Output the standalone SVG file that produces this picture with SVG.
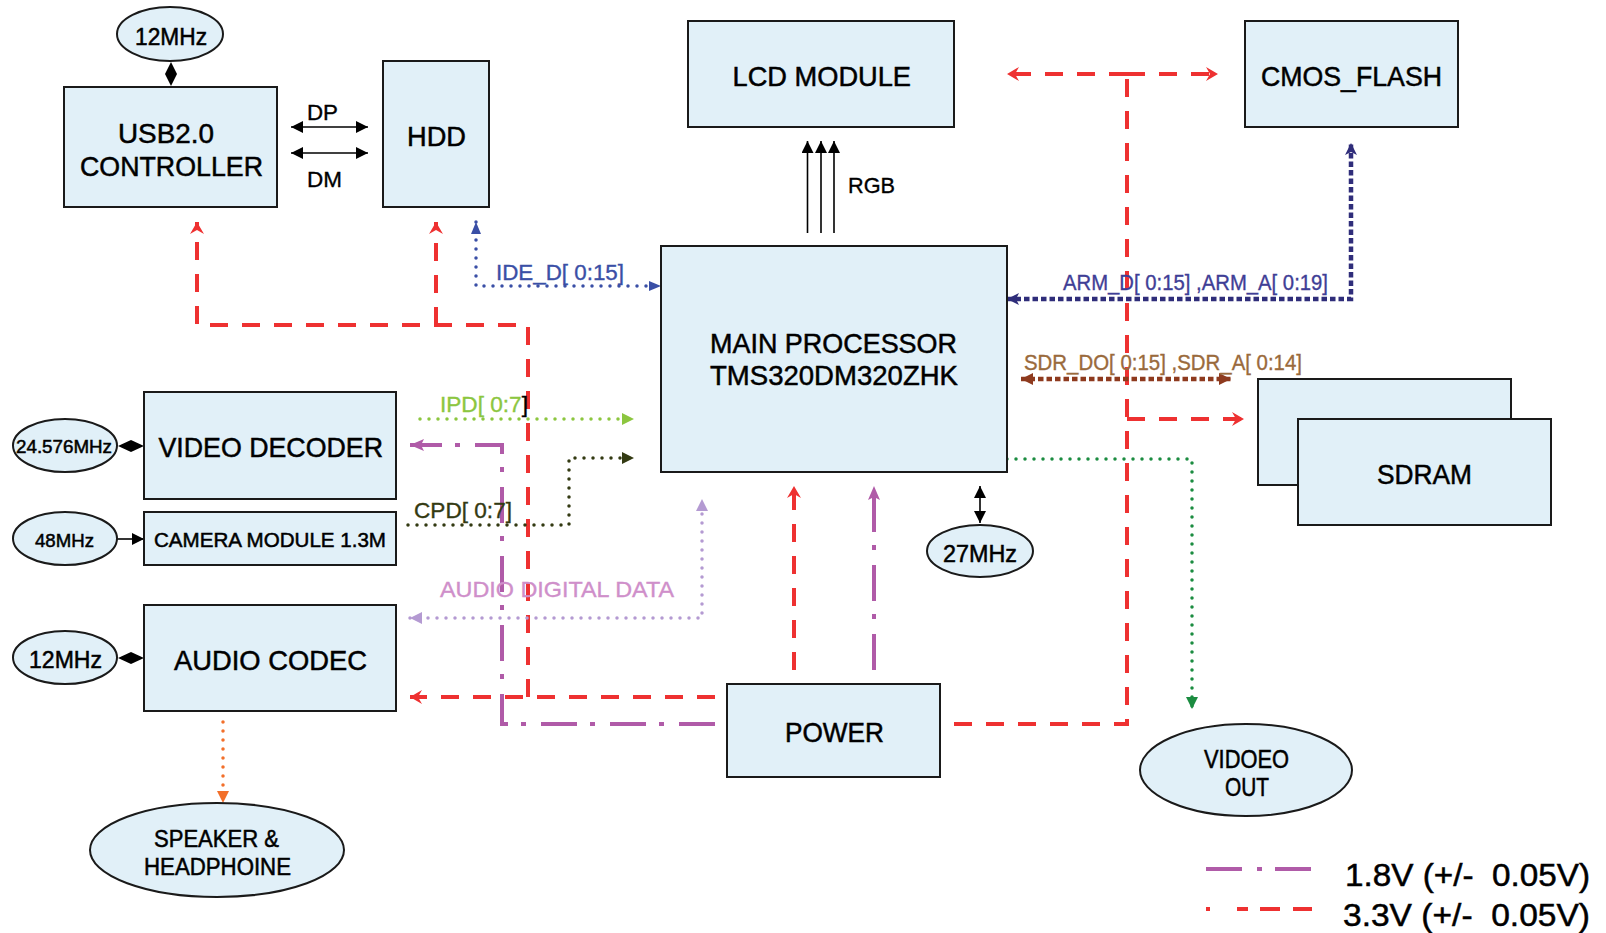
<svg xmlns="http://www.w3.org/2000/svg" width="1606" height="933" viewBox="0 0 1606 933">
<style>
.box{fill:#e1f0f8;stroke:#1a1a1a;stroke-width:2}
.t{font-family:"Liberation Sans",Arial,sans-serif;fill:#000;stroke:#000;stroke-width:0.5}
.l{font-family:"Liberation Sans",Arial,sans-serif;font-size:22px;stroke-width:0.35}
.v33{fill:none;stroke:#ee3131;stroke-width:4;stroke-dasharray:18 14}
.v18{fill:none;stroke:#b05ba8;stroke-width:4;stroke-dasharray:36 15 5 13}
.blk{fill:none;stroke:#000;stroke-width:1.6}
.dot{fill:none;stroke-width:3.5;stroke-linecap:round;stroke-dasharray:0 9}
.sq{fill:none;stroke-width:4.5;stroke-dasharray:5.5 3}
</style>
<defs>
<marker id="aBlk" viewBox="0 0 12 12" refX="12" refY="6" markerWidth="12" markerHeight="12" markerUnits="userSpaceOnUse" orient="auto-start-reverse"><path d="M0,0L12,6L0,12z" fill="#000"/></marker>
<marker id="aRed" viewBox="0 0 12 14" refX="12" refY="7" markerWidth="12" markerHeight="14" markerUnits="userSpaceOnUse" orient="auto-start-reverse"><path d="M0,0L12,7L0,14L4,7z" fill="#ee3131"/></marker>
<marker id="aPur" viewBox="0 0 14 12" refX="14" refY="6" markerWidth="14" markerHeight="12" markerUnits="userSpaceOnUse" orient="auto-start-reverse"><path d="M0,0L14,6L0,12L3,6z" fill="#b05ba8"/></marker>
<marker id="aBlue" viewBox="0 0 12 10" refX="12" refY="5" markerWidth="12" markerHeight="10" markerUnits="userSpaceOnUse" orient="auto-start-reverse"><path d="M0,0L12,5L0,10z" fill="#3a4fa6"/></marker>
<marker id="aNavy" viewBox="0 0 12 12" refX="12" refY="6" markerWidth="12" markerHeight="12" markerUnits="userSpaceOnUse" orient="auto-start-reverse"><path d="M0,0L12,6L0,12L3,6z" fill="#2f2d7a"/></marker>
<marker id="aBrown" viewBox="0 0 12 12" refX="12" refY="6" markerWidth="12" markerHeight="12" markerUnits="userSpaceOnUse" orient="auto-start-reverse"><path d="M0,0L12,6L0,12z" fill="#8e3a1e"/></marker>
<marker id="aLime" viewBox="0 0 12 12" refX="12" refY="6" markerWidth="12" markerHeight="12" markerUnits="userSpaceOnUse" orient="auto-start-reverse"><path d="M0,0L12,6L0,12z" fill="#8cc63f"/></marker>
<marker id="aOlive" viewBox="0 0 12 12" refX="12" refY="6" markerWidth="12" markerHeight="12" markerUnits="userSpaceOnUse" orient="auto-start-reverse"><path d="M0,0L12,6L0,12z" fill="#333a12"/></marker>
<marker id="aLav" viewBox="0 0 12 12" refX="12" refY="6" markerWidth="12" markerHeight="12" markerUnits="userSpaceOnUse" orient="auto-start-reverse"><path d="M0,0L12,6L0,12z" fill="#b49ad2"/></marker>
<marker id="aGreen" viewBox="0 0 12 12" refX="12" refY="6" markerWidth="12" markerHeight="12" markerUnits="userSpaceOnUse" orient="auto-start-reverse"><path d="M0,0L12,6L0,12z" fill="#1b8c40"/></marker>
<marker id="aOrange" viewBox="0 0 12 12" refX="12" refY="6" markerWidth="12" markerHeight="12" markerUnits="userSpaceOnUse" orient="auto-start-reverse"><path d="M0,0L12,6L0,12z" fill="#f26f2a"/></marker>
</defs>
<rect width="1606" height="933" fill="#fff"/>

<g id="connectors">
  <!-- 3.3V red -->
  <path class="v33" d="M715,697H410" marker-end="url(#aRed)"/>
  <path class="v33" d="M528,697V325H197V222" marker-end="url(#aRed)"/>
  <path class="v33" d="M436,325V222" marker-end="url(#aRed)"/>
  <path class="v33" d="M954,724H1127V74"/>
  <path class="v33" d="M1127,74H1007" marker-end="url(#aRed)"/>
  <path class="v33" d="M1127,74H1218" marker-end="url(#aRed)"/>
  <path class="v33" d="M1127,419H1244" marker-end="url(#aRed)"/>
  <path class="v33" d="M794,670V486" marker-end="url(#aRed)"/>
  <!-- 1.8V purple -->
  <path class="v18" d="M715,724H502V445H410" marker-end="url(#aPur)"/>
  <path class="v18" d="M874,670V486" marker-end="url(#aPur)"/>
  <!-- black -->
  <polygon points="171,62 177,74 171,86 165,74" fill="#000"/>
  <polygon points="118,446 131,440 144,446 131,452" fill="#000"/>
  <polygon points="118,658 131,652 144,658 131,664" fill="#000"/>
  <path class="blk" d="M117,539H144" marker-end="url(#aBlk)"/>
  <path class="blk" d="M291,127H368" marker-start="url(#aBlk)" marker-end="url(#aBlk)"/>
  <path class="blk" d="M291,153H368" marker-start="url(#aBlk)" marker-end="url(#aBlk)"/>
  <path class="blk" d="M807.5,233V141" marker-end="url(#aBlk)"/>
  <path class="blk" d="M821,233V141" marker-end="url(#aBlk)"/>
  <path class="blk" d="M834,233V141" marker-end="url(#aBlk)"/>
  <path class="blk" d="M980,486V523" marker-start="url(#aBlk)" marker-end="url(#aBlk)"/>
  <!-- signals -->
  <path class="dot" stroke="#3a4fa6" d="M476,222V286H661" marker-start="url(#aBlue)" marker-end="url(#aBlue)"/>
  <path class="sq" stroke="#2f2d7a" d="M1007,299H1351V143" marker-start="url(#aNavy)" marker-end="url(#aNavy)"/>
  <path class="sq" stroke="#8e3a1e" d="M1021,379H1231" marker-start="url(#aBrown)" marker-end="url(#aBrown)"/>
  <path class="dot" stroke="#8cc63f" d="M420,419H634" marker-end="url(#aLime)"/>
  <path class="dot" stroke="#333a12" d="M408,525H569V458H634" marker-end="url(#aOlive)"/>
  <path class="dot" stroke="#b49ad2" d="M410,618H702V499" marker-start="url(#aLav)" marker-end="url(#aLav)"/>
  <path class="dot" stroke="#1b8c40" d="M1007,459H1192V709" marker-end="url(#aGreen)"/>
  <path class="dot" stroke="#f26f2a" d="M223,722V803" marker-end="url(#aOrange)"/>
  <!-- labels -->
  <text class="l" x="307" y="120" textLength="31" lengthAdjust="spacingAndGlyphs" fill="#000" stroke="#000">DP</text>
  <text class="l" x="307" y="187" textLength="35" lengthAdjust="spacingAndGlyphs" fill="#000" stroke="#000">DM</text>
  <text class="l" x="848" y="193" textLength="47" lengthAdjust="spacingAndGlyphs" fill="#000" stroke="#000">RGB</text>
  <text class="l" x="496" y="280" textLength="128" lengthAdjust="spacingAndGlyphs" fill="#3a4fa6" stroke="#3a4fa6">IDE_D[ 0:15]</text>
  <text class="l" x="1063" y="290" textLength="265" lengthAdjust="spacingAndGlyphs" fill="#3f3e96" stroke="#3f3e96">ARM_D[ 0:15] ,ARM_A[ 0:19]</text>
  <text class="l" x="1024" y="370" textLength="278" lengthAdjust="spacingAndGlyphs" fill="#9a6a3c" stroke="#9a6a3c">SDR_DO[ 0:15] ,SDR_A[ 0:14]</text>
  <text class="l" x="440" y="412" textLength="88" lengthAdjust="spacingAndGlyphs" fill="#8cc63f" stroke="#8cc63f">IPD[ 0:7<tspan fill="#000" stroke="#000">]</tspan></text>
  <text class="l" x="414" y="518" textLength="98" lengthAdjust="spacingAndGlyphs" fill="#333a12" stroke="#333a12">CPD[ 0:7]</text>
  <text class="l" x="440" y="597" textLength="234" lengthAdjust="spacingAndGlyphs" fill="#cf8fca" stroke="#cf8fca">AUDIO DIGITAL DATA</text>
</g>

<g id="clk-usb"><ellipse cx="170" cy="34" rx="53" ry="27" class="box"/><text class="t" x="135" y="45" font-size="23" textLength="72" lengthAdjust="spacingAndGlyphs">12MHz</text></g>
<g id="usb"><rect x="64" y="87" width="213" height="120" class="box"/><text class="t" x="118" y="143" font-size="28" textLength="96" lengthAdjust="spacingAndGlyphs">USB2.0</text><text class="t" x="80" y="176" font-size="28" textLength="183" lengthAdjust="spacingAndGlyphs">CONTROLLER</text></g>
<g id="hdd"><rect x="383" y="61" width="106" height="146" class="box"/><text class="t" x="407" y="146" font-size="28" textLength="59" lengthAdjust="spacingAndGlyphs">HDD</text></g>
<g id="lcd"><rect x="688" y="21" width="266" height="106" class="box"/><text class="t" x="732.5" y="86" font-size="28" textLength="178.5" lengthAdjust="spacingAndGlyphs">LCD MODULE</text></g>
<g id="cmos"><rect x="1245" y="21" width="213" height="106" class="box"/><text class="t" x="1261" y="86" font-size="28" textLength="181" lengthAdjust="spacingAndGlyphs">CMOS_FLASH</text></g>
<g id="main"><rect x="661" y="246" width="346" height="226" class="box"/><text class="t" x="710" y="353" font-size="28" textLength="247" lengthAdjust="spacingAndGlyphs">MAIN PROCESSOR</text><text class="t" x="710" y="385" font-size="28" textLength="248" lengthAdjust="spacingAndGlyphs">TMS320DM320ZHK</text></g>
<g id="sdram"><rect x="1258" y="379" width="253" height="106" class="box"/><rect x="1298" y="419" width="253" height="106" class="box"/><text class="t" x="1377" y="484" font-size="28" textLength="95" lengthAdjust="spacingAndGlyphs">SDRAM</text></g>
<g id="clk-video"><ellipse cx="65" cy="445.5" rx="52" ry="26.5" class="box"/><text class="t" x="16" y="453" font-size="18" textLength="96" lengthAdjust="spacingAndGlyphs">24.576MHz</text></g>
<g id="video-decoder"><rect x="144" y="392" width="252" height="107" class="box"/><text class="t" x="158.5" y="457" font-size="28" textLength="224.5" lengthAdjust="spacingAndGlyphs">VIDEO DECODER</text></g>
<g id="clk-camera"><ellipse cx="65" cy="538.5" rx="52" ry="26.5" class="box"/><text class="t" x="35" y="547" font-size="19" textLength="59" lengthAdjust="spacingAndGlyphs">48MHz</text></g>
<g id="camera"><rect x="144" y="512" width="252" height="53" class="box"/><text class="t" x="154" y="547" font-size="20" textLength="232" lengthAdjust="spacingAndGlyphs">CAMERA MODULE 1.3M</text></g>
<g id="clk-audio"><ellipse cx="65" cy="657.5" rx="52" ry="26.5" class="box"/><text class="t" x="29" y="668" font-size="23" textLength="73" lengthAdjust="spacingAndGlyphs">12MHz</text></g>
<g id="audio-codec"><rect x="144" y="605" width="252" height="106" class="box"/><text class="t" x="174" y="670" font-size="28" textLength="193" lengthAdjust="spacingAndGlyphs">AUDIO CODEC</text></g>
<g id="power"><rect x="727" y="684" width="213" height="93" class="box"/><text class="t" x="785" y="742" font-size="28" textLength="99" lengthAdjust="spacingAndGlyphs">POWER</text></g>
<g id="clk-main"><ellipse cx="980" cy="551" rx="53" ry="26" class="box"/><text class="t" x="943" y="562" font-size="23" textLength="74" lengthAdjust="spacingAndGlyphs">27MHz</text></g>
<g id="video-out"><ellipse cx="1246" cy="770" rx="106" ry="46" class="box"/><text class="t" x="1204" y="768" font-size="25" textLength="85" lengthAdjust="spacingAndGlyphs">VIDOEO</text><text class="t" x="1225" y="796" font-size="25" textLength="44" lengthAdjust="spacingAndGlyphs">OUT</text></g>
<g id="speaker"><ellipse cx="217" cy="850" rx="127" ry="47" class="box"/><text class="t" x="154" y="847" font-size="23" textLength="125" lengthAdjust="spacingAndGlyphs">SPEAKER &amp;</text><text class="t" x="144" y="875" font-size="23" textLength="147" lengthAdjust="spacingAndGlyphs">HEADPHOINE</text></g>

<g id="legend">
  <path class="v18" d="M1206,869H1312"/>
  <path d="M1206,909H1312" fill="none" stroke="#ee3131" stroke-width="4" stroke-dasharray="4 27 11 12 20 13 19"/>
  <text class="t" x="1345" y="886" font-size="32" stroke-width="0.3" textLength="245" lengthAdjust="spacingAndGlyphs" xml:space="preserve">1.8V (+/-  0.05V)</text>
  <text class="t" x="1343" y="926" font-size="32" stroke-width="0.3" textLength="247" lengthAdjust="spacingAndGlyphs" xml:space="preserve">3.3V (+/-  0.05V)</text>
</g>
</svg>
